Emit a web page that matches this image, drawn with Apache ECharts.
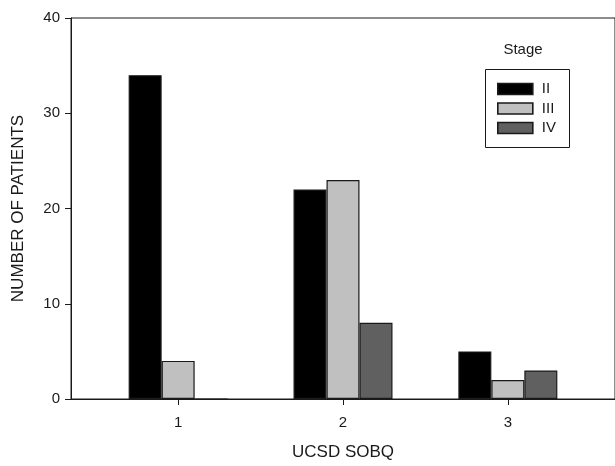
<!DOCTYPE html>
<html>
<head>
<meta charset="utf-8">
<script src="https://cdn.jsdelivr.net/npm/echarts@6/dist/echarts.min.js"></script>
<style>html,body{margin:0;padding:0;background:#fff;}#c{width:615px;height:466px;}</style>
</head>
<body>
<div id="c"></div>
<script>
const categories = [1, 2, 3];
const tickLabels = ['1', '2', '3'];
const stageNames = ['II', 'III', 'IV'];
const stageII = [34, 22, 5];
const stageIII = [4, 23, 2];
const stageIV = [0, 8, 3];
const yTicks = [0, 10, 20, 30, 40];
const colors = ['#000000', '#c0c0c0', '#606060'];

const font = 'Liberation Sans, Arial, sans-serif';
const ink = '#1a1a1a';

const chart = echarts.init(document.getElementById('c'), null, {renderer: 'canvas'});
const seriesValues = [stageII, stageIII, stageIV];

const option = {
  animation: false,
  backgroundColor: '#fff',
  grid: {left: 71, right: -5, top: 18, bottom: 65, show: true, borderColor: ink, borderWidth: 1, backgroundColor: 'transparent'},
  xAxis: {
    type: 'value', min: 0.35, max: 3.65,
    name: 'UCSD SOBQ', nameLocation: 'middle', nameGap: 45,
    nameTextStyle: {fontFamily: font, fontSize: 17, color: ink},
    axisLine: {show: true, lineStyle: {color: ink, width: 1}},
    axisTick: {show: true, length: 6, inside: false, customValues: categories, lineStyle: {color: ink}},
    axisLabel: {customValues: categories, margin: 16, fontFamily: font, fontSize: 15, color: ink,
      formatter: v => tickLabels[categories.indexOf(v)]},
    splitLine: {show: false}
  },
  yAxis: {
    type: 'value', min: yTicks[0], max: yTicks[yTicks.length - 1], interval: 10,
    name: 'NUMBER OF PATIENTS', nameLocation: 'middle', nameGap: 44,
    nameTextStyle: {fontFamily: font, fontSize: 17, color: ink},
    axisLine: {show: true, lineStyle: {color: ink, width: 1}},
    axisTick: {show: true, length: 6, inside: false, lineStyle: {color: ink}},
    axisLabel: {margin: 11, fontFamily: font, fontSize: 15, color: ink},
    splitLine: {show: false}
  },
  legend: {
    orient: 'vertical', left: 497, top: 81.5, padding: 0,
    itemWidth: 35, itemHeight: 11, itemGap: 4.5, selectedMode: false,
    icon: 'rect',
    itemStyle: {borderColor: ink, borderWidth: 1.6},
    textStyle: {fontFamily: font, fontSize: 15, color: ink, lineHeight: 15, padding: [0, 0, 0, 4]},
    data: stageNames
  },
  graphic: [
    {type: 'rect', shape: {x: 485.5, y: 69.5, width: 84, height: 78}, style: {fill: 'none', stroke: ink, lineWidth: 1}, z: 100},
    {type: 'text', x: 523, y: 50, style: {text: 'Stage', font: '15px ' + font, fill: ink, textAlign: 'center', textVerticalAlign: 'middle'}, z: 100}
  ],
  series: stageNames.map((n, s) => ({
    name: n, type: 'bar', barWidth: 33, barGap: '0%',
    itemStyle: {color: colors[s], borderColor: ink, borderWidth: 1.2},
    data: categories.map((c, i) => [c, seriesValues[s][i]])
  }))
};
chart.setOption(option);
</script>
</body>
</html>
